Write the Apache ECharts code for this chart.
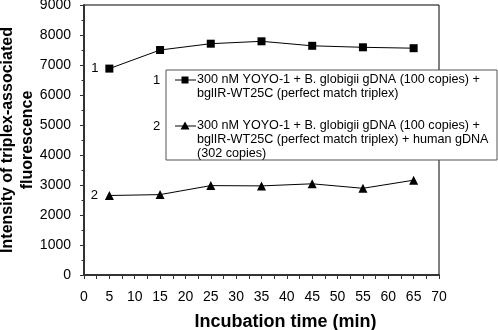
<!DOCTYPE html>
<html>
<head>
<meta charset="utf-8">
<script src="https://cdn.jsdelivr.net/npm/echarts@6/dist/echarts.min.js"></script>
<style>
html,body{margin:0;padding:0;background:#fff;}
#c{width:498px;height:330px;}
</style>
</head>
<body>
<div id="c"></div>
<script>
var times = [5, 15, 25, 35, 45, 55, 65];
var series1 = [6880, 7500, 7710, 7790, 7640, 7590, 7560];
var series2 = [2650, 2680, 2980, 2970, 3040, 2890, 3160];
var seriesNames = ['1', '2'];
var legendLines1 = ['300 nM YOYO-1 + B. globigii gDNA (100 copies) +', 'bglIR-WT25C (perfect match triplex)'];
var legendLines2 = ['300 nM YOYO-1 + B. globigii gDNA (100 copies) +', 'bglIR-WT25C (perfect match triplex) + human gDNA', '(302 copies)'];
var xTicks = {min: 0, max: 70, interval: 5};
var yTicks = {min: 0, max: 9000, interval: 1000};

var FONT = 'Liberation Sans, Arial, sans-serif';

function pairs(vals, name) {
  return vals.map(function (v, i) {
    var d = {value: [times[i], v]};
    if (i === 0) {
      d.label = {show: true, position: 'left', distance: 7, formatter: name,
        fontFamily: FONT, fontSize: 13, color: '#000'};
    }
    return d;
  });
}

var chart = echarts.init(document.getElementById('c'), null, {renderer: 'canvas'});

var legendX = 166, legendY = 70, legendW = 331, legendH = 90;
var graphics = [
  {type: 'rect', shape: {x: legendX, y: legendY, width: legendW, height: legendH},
   style: {fill: '#fff', stroke: '#555', lineWidth: 1}, z: 10}
];
function addEntry(num, lines, y0, symbol) {
  graphics.push({type: 'text', x: 153, y: y0, z: 11,
    style: {text: num, font: '13px ' + FONT, fill: '#000', verticalAlign: 'middle', align: 'left'}});
  graphics.push({type: 'line', shape: {x1: 175, y1: y0, x2: 196, y2: y0}, z: 11,
    style: {stroke: '#000', lineWidth: 1}});
  if (symbol === 'rect') {
    graphics.push({type: 'rect', shape: {x: 181.5, y: y0 - 3.5, width: 7, height: 7}, z: 12,
      style: {fill: '#000'}});
  } else {
    graphics.push({type: 'polygon', shape: {points: [[185, y0 - 4.5], [189.5, y0 + 3.5], [180.5, y0 + 3.5]]}, z: 12,
      style: {fill: '#000'}});
  }
  lines.forEach(function (t, i) {
    graphics.push({type: 'text', x: 197, y: y0 + i * 14, z: 11,
      style: {text: t, font: '12.6px ' + FONT, fill: '#000', verticalAlign: 'middle', align: 'left'}});
  });
}
addEntry('1', legendLines1, 80, 'rect');
addEntry('2', legendLines2, 126, 'triangle');

var option = {
  animation: false,
  backgroundColor: '#fff',
  grid: {left: 84, right: 59, top: 5, bottom: 55, containLabel: false, outerBoundsMode: 'none',
    show: true, borderColor: '#000', borderWidth: 1, backgroundColor: 'transparent'},
  xAxis: {
    type: 'value', min: xTicks.min, max: xTicks.max, interval: xTicks.interval,
    name: 'Incubation time (min)', nameLocation: 'middle', nameGap: 38, nameMoveOverlap: false,
    nameTextStyle: {fontFamily: FONT, fontSize: 18, fontWeight: 'bold', color: '#000', padding: [0, 0, 0, 48]},
    axisLine: {show: true, lineStyle: {color: '#333', width: 2}},
    axisTick: {show: true, length: 4, lineStyle: {color: '#333'}},
    minorTick: {show: true, splitNumber: 2, length: 4, lineStyle: {color: '#333'}},
    splitLine: {show: false},
    axisLabel: {fontFamily: FONT, fontSize: 14, color: '#000', margin: 15}
  },
  yAxis: {
    type: 'value', min: yTicks.min, max: yTicks.max, interval: yTicks.interval,
    name: 'Intensity of triplex-associated\nfluorescence', nameLocation: 'middle', nameGap: 46, nameMoveOverlap: false,
    nameTextStyle: {fontFamily: FONT, fontSize: 16, fontWeight: 'bold', color: '#000', lineHeight: 20},
    axisLine: {show: true, lineStyle: {color: '#333', width: 2}},
    axisTick: {show: true, length: 4, lineStyle: {color: '#333'}},
    minorTick: {show: true, splitNumber: 2, length: 2.5, lineStyle: {color: '#333'}},
    splitLine: {show: false},
    axisLabel: {fontFamily: FONT, fontSize: 14, color: '#000', margin: 13,
      formatter: function (v) { return String(v); }}
  },
  series: [
    {name: seriesNames[0], type: 'line', data: pairs(series1, seriesNames[0]),
     symbol: 'rect', symbolSize: 8, itemStyle: {color: '#000'},
     lineStyle: {color: '#000', width: 1}, z: 3},
    {name: seriesNames[1], type: 'line', data: pairs(series2, seriesNames[1]),
     symbol: 'triangle', symbolSize: 9, itemStyle: {color: '#000'},
     lineStyle: {color: '#000', width: 1}, z: 3}
  ],
  graphic: graphics
};
chart.setOption(option);
</script>
</body>
</html>
